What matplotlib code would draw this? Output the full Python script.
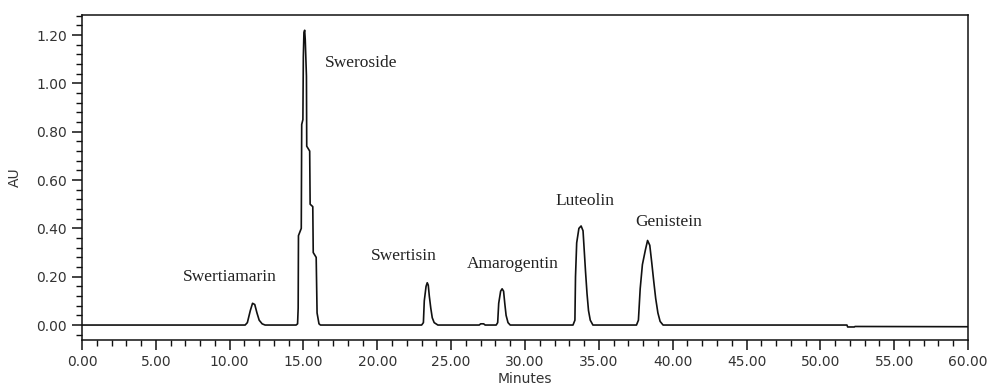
import matplotlib.pyplot as plt
from matplotlib.ticker import MultipleLocator, FormatStrFormatter

# trace (minutes, AU)
minutes = [0.0, 11.05, 11.2, 11.4, 11.55, 11.7, 11.85, 12.0, 12.2, 12.4,
           14.50, 14.60, 14.64, 14.66, 14.85, 14.88, 14.96, 14.99, 15.03, 15.08,
           15.12, 15.20, 15.22, 15.42, 15.45, 15.63, 15.66, 15.86, 15.92, 16.05, 16.15,
           23.0, 23.12, 23.18, 23.3, 23.38, 23.45, 23.52, 23.62, 23.72, 23.85, 24.1,
           26.9, 27.0, 27.2, 27.3,
           28.05, 28.15, 28.22, 28.35, 28.45, 28.55, 28.63, 28.72, 28.85, 29.0,
           33.25, 33.38, 33.42, 33.5, 33.65, 33.8, 33.93, 34.02, 34.1, 34.2, 34.3, 34.42, 34.6,
           37.55, 37.68, 37.8, 37.95, 38.15, 38.3, 38.45, 38.58, 38.72, 38.85, 39.0, 39.15, 39.35,
           51.8, 51.85, 52.3, 52.35, 60.0]
au = [0.0, 0.0, 0.01, 0.06, 0.09, 0.085, 0.05, 0.02, 0.005, 0.0,
      0.0, 0.005, 0.07, 0.37, 0.40, 0.83, 0.85, 1.11, 1.21, 1.22,
      1.18, 1.03, 0.74, 0.72, 0.50, 0.49, 0.30, 0.28, 0.05, 0.005, 0.0,
      0.0, 0.01, 0.10, 0.16, 0.175, 0.165, 0.12, 0.07, 0.03, 0.01, 0.0,
      0.0, 0.005, 0.005, 0.0,
      0.0, 0.01, 0.09, 0.14, 0.15, 0.14, 0.09, 0.04, 0.01, 0.0,
      0.0, 0.02, 0.20, 0.34, 0.40, 0.41, 0.39, 0.30, 0.22, 0.13, 0.06, 0.02, 0.0,
      0.0, 0.02, 0.15, 0.25, 0.31, 0.35, 0.33, 0.26, 0.18, 0.11, 0.05, 0.015, 0.0,
      0.0, -0.008, -0.008, -0.006, -0.007]

peak_names = ["Swertiamarin", "Sweroside", "Swertisin", "Amarogentin", "Luteolin", "Genistein"]
label_x = [10.0, 18.9, 21.8, 29.15, 34.06, 39.72]
label_y = [0.199, 1.084, 0.285, 0.252, 0.514, 0.427]

fig = plt.figure(figsize=(9.9, 3.87), dpi=100)
ax = fig.add_axes([0.0828, 0.1214, 0.895, 0.8398])

ax.plot(minutes, au, color="#111111", lw=1.2)

for name, x, y in zip(peak_names, label_x, label_y):
    ax.text(x, y, name, ha="center", va="center", fontsize=12.5,
            family="Liberation Serif", color="#222222")

ax.set_xlim(0, 60)
ax.set_ylim(-0.062, 1.283)
ax.xaxis.set_major_locator(MultipleLocator(5))
ax.xaxis.set_minor_locator(MultipleLocator(1))
ax.yaxis.set_major_locator(MultipleLocator(0.2))
ax.yaxis.set_minor_locator(MultipleLocator(0.04))
ax.xaxis.set_major_formatter(FormatStrFormatter("%.2f"))
ax.yaxis.set_major_formatter(FormatStrFormatter("%.2f"))

ax.tick_params(which="major", length=7, width=1.1, labelsize=10, colors="#111111",
               labelcolor="#333333", pad=4)
ax.tick_params(which="minor", length=4, width=1.0, colors="#111111")
for s in ax.spines.values():
    s.set_linewidth(1.1)
    s.set_color("#111111")

ax.set_xlabel("Minutes", fontsize=10, color="#333333", labelpad=2)
ax.set_ylabel("AU", fontsize=10, color="#333333", labelpad=10)

fig.savefig("out.png", dpi=100)
